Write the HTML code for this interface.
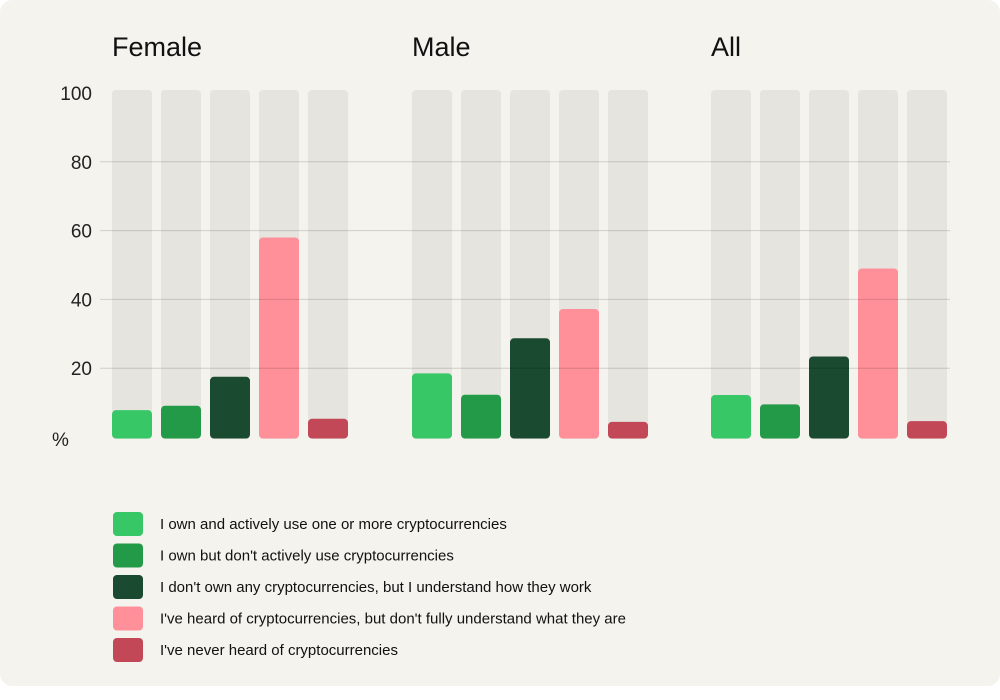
<!DOCTYPE html>
<html><head><meta charset="utf-8"><style>
body{margin:0;background:#fff;font-family:"Liberation Sans",sans-serif;}
#card{position:absolute;left:0;top:0;width:1000px;height:686px;background:#f4f3ed;border-radius:12px;}
svg{position:absolute;left:0;top:0}
</style></head><body>
<div id="card"></div>
<svg id="chart" width="1000" height="700"></svg>
<script>
const groups=["Female","Male","All"];
const categories=["I own and actively use one or more cryptocurrencies","I own but don't actively use cryptocurrencies","I don't own any cryptocurrencies, but I understand how they work","I've heard of cryptocurrencies, but don't fully understand what they are","I've never heard of cryptocurrencies"];
const femaleValues=[7.8,9.1,17.5,58,5.3];
const maleValues=[18.5,12.3,28.7,37.2,4.4];
const allValues=[12.2,9.5,23.4,49,4.6];
const yTicks=[20,40,60,80,100];
const colors=["#38c767","#239a47","#1a4a30","#ff909a","#c24757"];
const series=[femaleValues,maleValues,allValues];
const NS="http://www.w3.org/2000/svg";
const svg=document.getElementById("chart");
const y=v=>437-v*3.44;
const groupX=[112,412,711];
const barW=40,step=49;
function mk(t,a){const e=document.createElementNS(NS,t);for(const k in a)e.setAttribute(k,a[k]);svg.appendChild(e);return e;}
groups.forEach((g,gi)=>{
  const t=mk("text",{x:groupX[gi],y:56,"font-size":27,fill:"#111"});t.textContent=g;
  
  
  series[gi].forEach((v,i)=>{
    const x=groupX[gi]+i*step;
    const bg=mk("rect",{x:x,y:90,width:barW,height:349,rx:4,fill:"#e5e4de"});
    
    
    const b=mk("rect",{x:x,y:y(v),width:barW,height:438.5-y(v),rx:4,fill:colors[i]});
    
    
  });
});
yTicks.forEach(t=>{
  if(t<100){const l=mk("line",{x1:100,x2:950,y1:y(t),y2:y(t),stroke:"rgba(0,0,0,0.15)","stroke-width":1});
  
  }
  const tx=mk("text",{x:92,y:y(t)+7,"font-size":19,fill:"#222","text-anchor":"end"});tx.textContent=t;
  
  
});
const pc=mk("text",{x:52,y:446,"font-size":19,fill:"#222"});pc.textContent="%";


categories.forEach((c,i)=>{
  const yy=512+i*31.5;
  const s=mk("rect",{x:113,y:yy,width:30,height:24,rx:4,fill:colors[i]});
  
  
  const t=mk("text",{x:160,y:yy+17,"font-size":15,fill:"#111"});t.textContent=c;
  
  
});
</script>
</body></html>
